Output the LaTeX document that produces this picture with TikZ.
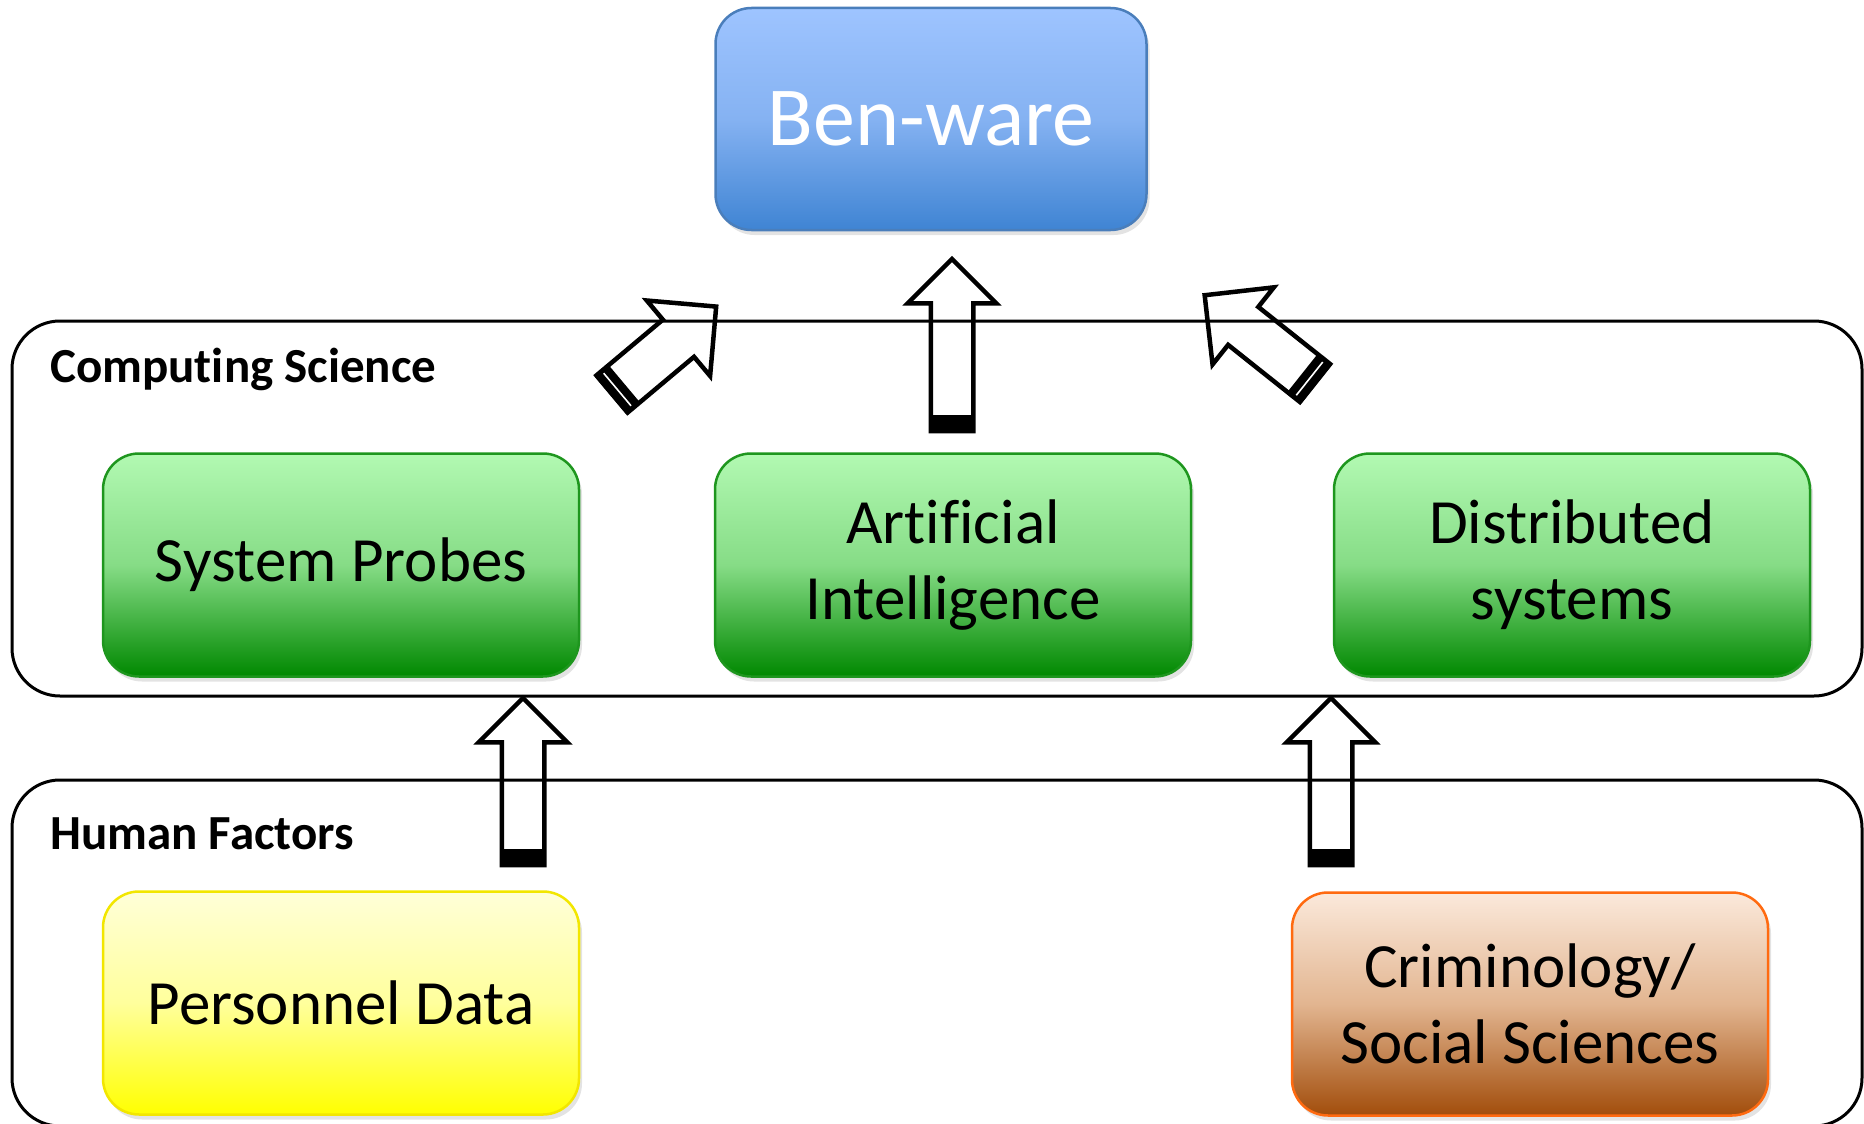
\documentclass[tikz,border=0pt]{standalone}
\usepackage{fontspec}
\setmainfont{Carlito}[Ligatures=NoCommon]
\usetikzlibrary{shapes, arrows.meta, positioning, calc, fit, shadows}

\definecolor{benTop}{HTML}{9EC4FF}
\definecolor{benMid}{HTML}{85B2F2}
\definecolor{benBot}{HTML}{3F84D3}
\definecolor{benLine}{HTML}{4A7EBB}
\definecolor{grnTop}{HTML}{B2F9B2}
\definecolor{grnMid}{HTML}{86DC86}
\definecolor{grnBot}{HTML}{008800}
\definecolor{grnLine}{HTML}{1E961E}
\definecolor{ylwTop}{HTML}{FFFFD8}
\definecolor{ylwMid}{HTML}{FFFF9C}
\definecolor{ylwBot}{HTML}{FFFF00}
\definecolor{ylwLine}{HTML}{F2E600}
\definecolor{orgTop}{HTML}{FBE9DB}
\definecolor{orgMid}{HTML}{E2B590}
\definecolor{orgBot}{HTML}{A24D0B}
\definecolor{orgLine}{HTML}{FF6A10}

\begin{document}
\begin{tikzpicture}[
    x=1pt, y=-1pt,
    group/.style={draw, line width=3pt, rounded corners=48pt, inner sep=0pt},
    grouptitle/.style={anchor=base west, inner sep=0pt, font=\fontsize{49}{59}\selectfont\bfseries},
    mybox/.style={rounded corners=36pt, line width=2.5pt, outer sep=0pt,
        minimum width=476pt, minimum height=223pt, align=center,
        font=\fontsize{63}{76}\selectfont,
        drop shadow={shadow xshift=3pt, shadow yshift=-5pt, opacity=0.22}},
    myblue/.style={draw=benLine, top color=benTop, bottom color=benBot, middle color=benMid, text=white},
    mygreen/.style={draw=grnLine, top color=grnTop, bottom color=grnBot, middle color=grnMid},
    myyellow/.style={draw=ylwLine, top color=ylwTop, bottom color=ylwBot, middle color=ylwMid},
    myorange/.style={draw=orgLine, top color=orgTop, bottom color=orgBot, middle color=orgMid},
    uparrow/.style={single arrow, draw, line width=4.5pt, miter limit=4,
        inner xsep=0pt, inner ysep=19pt, outer sep=0pt,
        single arrow head extend=23pt, single arrow tip angle=90,
        minimum height=172pt, anchor=tail},
    diagarrow/.style={uparrow, inner ysep=22pt, single arrow head extend=25pt},
    arrowbase/.style={fill=black, inner sep=0pt, outer sep=0pt, minimum width=18pt},
    stripe/.style={white, line width=1.6pt, shorten <=3pt, shorten >=3pt},
]
\useasboundingbox (0,0) rectangle (1864,1124);

% Groups
\node[group, fit={(12,321)(1862,696)}] (cs) {};
\node[group, fit={(12,780)(1862,1126)}] (hf) {};
\node[grouptitle] (cs_title) at (50,382) {Computing Science};
\node[grouptitle] (hf_title) at (50,849) {Human Factors};

% Boxes
\node[mybox, myblue, minimum width=431pt, minimum height=222pt,
      font=\fontsize{84}{100}\selectfont] (ben) at (931,119) {Ben-ware};
\node[mybox, mygreen] (ai) at (953,565) {Artificial\\Intelligence};
\node[mybox, mygreen, left=136pt of ai] (probes) {System Probes};
\node[mybox, mygreen, right=143pt of ai] (dist) {Distributed\\systems};
\node[mybox, myyellow, below=215pt of probes] (pd) {Personnel Data};
\node[mybox, myorange] (crim) at (1530,1004) {Criminology/\\Social Sciences};

% Block arrows (placed by their tails)
\coordinate (t_ai) at (952,431);
\coordinate (t_pd) at (523,865);
\coordinate (t_crim) at (1331,865);
\coordinate (t_probes) at (612,394);
\coordinate (t_dist) at (1315,383);

\node[uparrow, rotate=90] (a_ai) at (t_ai) {};
\node[uparrow, rotate=90, minimum height=167pt] (a_pd) at (t_pd) {};
\node[uparrow, rotate=90, minimum height=167pt] (a_crim) at (t_crim) {};
\node[diagarrow, rotate=40, minimum height=136pt] (a_probes) at (t_probes) {};
\node[diagarrow, rotate=141.5, minimum height=141pt] (a_dist) at (t_dist) {};

% Black bases at the tails
\node[arrowbase, rotate=90, minimum height=42.5pt] (b_ai) at ($(a_ai.tail)!7pt!(a_ai.tip)$) {};
\node[arrowbase, rotate=90, minimum height=42.5pt] (b_pd) at ($(a_pd.tail)!7pt!(a_pd.tip)$) {};
\node[arrowbase, rotate=90, minimum height=42.5pt] (b_crim) at ($(a_crim.tail)!7pt!(a_crim.tip)$) {};
\node[arrowbase, rotate=40, minimum height=48.5pt] (b_probes) at ($(a_probes.tail)!7pt!(a_probes.tip)$) {};
\node[arrowbase, rotate=141.5, minimum height=48.5pt] (b_dist) at ($(a_dist.tail)!7pt!(a_dist.tip)$) {};
\draw[stripe] (b_probes.north) -- (b_probes.south);
\draw[stripe] (b_dist.north) -- (b_dist.south);

\end{tikzpicture}
\end{document}
